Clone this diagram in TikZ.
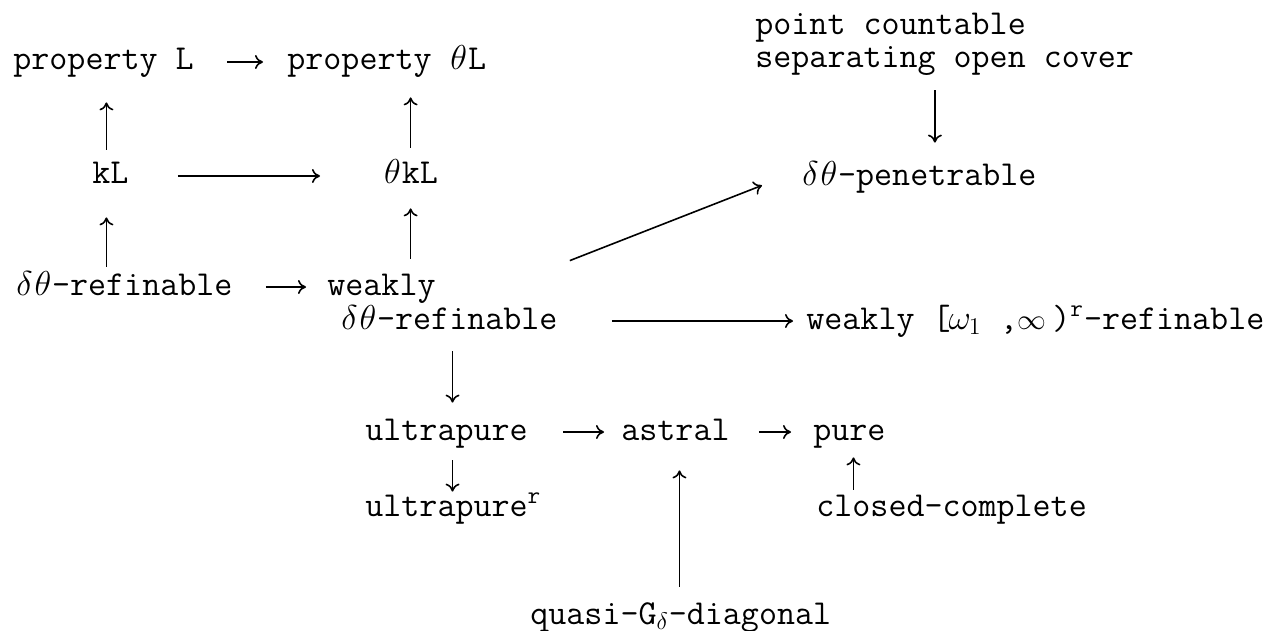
\documentclass[tikz,border=0pt]{standalone}
\usepackage{fontspec}
\usetikzlibrary{arrows.meta}
\newcommand{\gk}[1]{\makebox[0.525em]{$#1$}}

\begin{document}
\begin{tikzpicture}[
  x=0.5pt, y=-0.5pt,
  prop/.style={anchor=base west, inner sep=0pt, text height=11pt, text depth=3pt, font=\ttfamily\fontsize{17.5}{14}\selectfont},
  arrow/.style={-{To[length=4pt,width=7pt]}, line width=0.8pt}
]
\useasboundingbox (0,0) rectangle (1268,631);
\node[prop] (pL) at (13,70) {property L};
\node[prop] (pthL) at (287,70) {property \gk{\theta}L};
\node[prop] (kL) at (92,184) {kL};
\node[prop] (thkL) at (383,184) {\gk{\theta}kL};
\node[prop] (dref) at (15,295) {\gk{\delta}\gk{\theta}-refinable};
\node[prop] (wk) at (327,295) {weakly};
\node[prop] (wk2) at (340,329) {\gk{\delta}\gk{\theta}-refinable};
\node[prop] (pc1) at (755,35) {point countable};
\node[prop] (pc2) at (755,68) {separating open cover};
\node[prop] (pen) at (801,185) {\gk{\delta}\gk{\theta}-penetrable};
\node[prop] (wr) at (806,329) {weakly [\gk{\omega}$_1$ ,{\fontsize{15}{15}\selectfont$\infty$}\,)\textsuperscript{r}-refinable};
\node[prop] (up) at (365,440) {ultrapure};
\node[prop] (ast) at (621,440) {astral};
\node[prop] (pure) at (813,440) {pure};
\node[prop] (upr) at (365,516) {ultrapure\textsuperscript{r}};
\node[prop] (cc) at (816,516) {closed-complete};
\node[prop] (qd) at (530,624) {quasi-G$_{\delta}$-diagonal};
% horizontal arrows
\draw[arrow, shorten <=16.5pt, shorten >=12pt] (pL.east) -- (pthL.west);
\draw[arrow, shorten <=24.5pt, shorten >=31.5pt] (kL.east) -- (thkL.west);
\draw[arrow, shorten <=16.5pt, shorten >=10.5pt] (dref.east) -- (wk.west);
\draw[arrow, shorten <=17.5pt, shorten >=8.5pt] (up.east) -- (ast.west);
\draw[arrow, shorten <=14.5pt, shorten >=11pt] (ast.east) -- (pure.west);
\draw[arrow, shorten <=27pt, shorten >=6.5pt] (wk2.east) -- (wr.west);
\draw[arrow] ([shift={(12,-46)}]wk2.north east) -- ([shift={(-39,-6)}]pen.south west);
% vertical arrows
\draw[arrow, shorten <=6pt, shorten >=13pt] ([xshift=-2pt]kL.north) -- ([xshift=-2pt]kL.north |- pL.south);
\draw[arrow, shorten <=3pt, shorten >=13.5pt] ([xshift=-2pt]kL.south |- dref.north) -- ([xshift=-2pt]kL.south);
\draw[arrow, shorten <=7pt, shorten >=10.5pt] (thkL.north) -- (thkL.north |- pthL.south);
\draw[arrow, shorten <=7pt, shorten >=9pt] (thkL.south |- wk.north) -- (thkL.south);
\draw[arrow, shorten <=8pt, shorten >=10pt] ([xshift=8pt]pen.north |- pc2.south) -- ([xshift=8pt]pen.north);
\draw[arrow, shorten <=8pt, shorten >=7.5pt] ([xshift=3pt]up.north |- wk2.south) -- ([xshift=3pt]up.north);
\draw[arrow, shorten <=7pt, shorten >=1pt] ([xshift=3pt]up.south) -- ([xshift=3pt]up.south |- upr.north);
\draw[arrow, shorten <=2pt, shorten >=5.5pt] ([xshift=2pt]pure.south |- cc.north) -- ([xshift=2pt]pure.south);
\draw[arrow, shorten <=7.5pt, shorten >=12pt] ([xshift=2pt]ast.south |- qd.north) -- ([xshift=2pt]ast.south);
\end{tikzpicture}
\end{document}
